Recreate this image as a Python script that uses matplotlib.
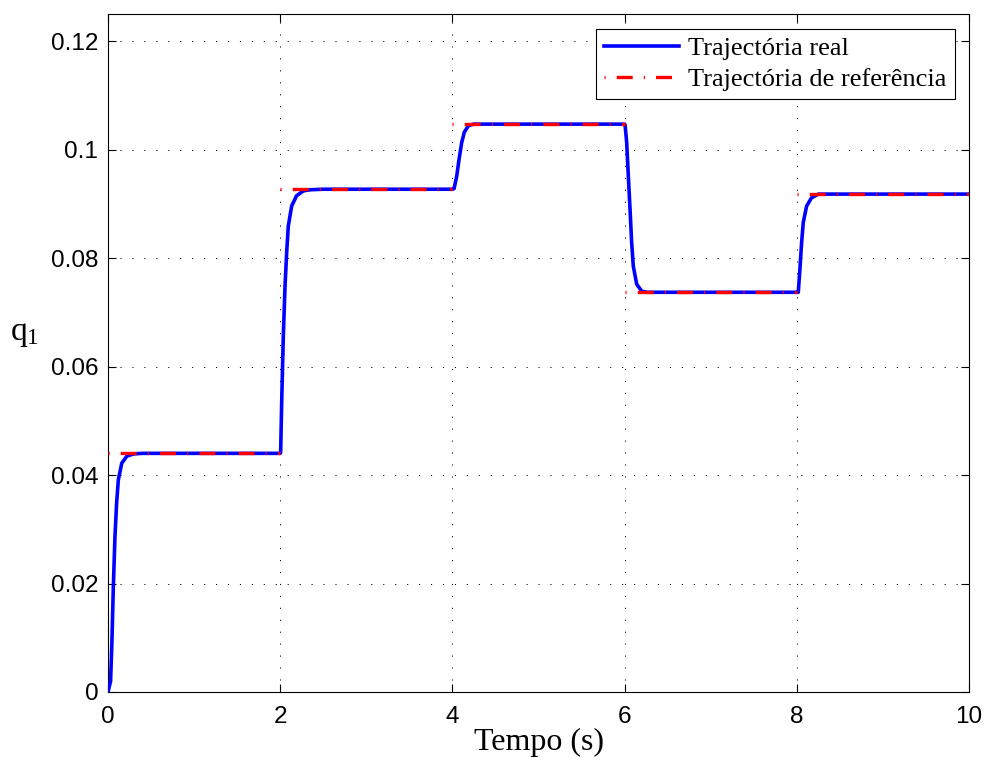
import matplotlib
matplotlib.use("Agg")
from matplotlib import pyplot as plt
import numpy as np

# reference trajectory (piecewise constant)
ref_start = [0, 2, 4, 6, 8]
ref_end = [2, 4, 6, 8, 10]
ref_level = [0.0440, 0.0927, 0.1047, 0.0737, 0.0918]

# real trajectory
t_real = [0, 0.03, 0.045, 0.062, 0.081, 0.10, 0.12, 0.16, 0.22, 0.30, 0.40,
          2.0, 2.005, 2.017, 2.036, 2.056, 2.075, 2.094, 2.133, 2.19, 2.27, 2.35, 2.5,
          4.0, 4.019, 4.05, 4.077, 4.108, 4.138, 4.185, 4.243, 4.35,
          6.0, 6.005, 6.024, 6.043, 6.063, 6.082, 6.101, 6.14, 6.198, 6.26, 6.4,
          8.0, 8.017, 8.036, 8.056, 8.075, 8.114, 8.17, 8.25, 8.4, 10.0]
q_real = [0, 0.002, 0.009, 0.0194, 0.0287, 0.0348, 0.0391, 0.0422, 0.0435, 0.0439, 0.0440,
          0.0440, 0.0441, 0.0533, 0.0656, 0.0748, 0.0810, 0.0859, 0.0896, 0.0915, 0.0924, 0.0926, 0.0927,
          0.0927, 0.0928, 0.0951, 0.0982, 0.1013, 0.1032, 0.1044, 0.1047, 0.1047,
          0.1047, 0.1046, 0.1013, 0.0952, 0.0890, 0.0828, 0.0785, 0.0752, 0.0739, 0.0737, 0.0737,
          0.0737, 0.0737, 0.0780, 0.0829, 0.0866, 0.0896, 0.0911, 0.0918, 0.0918, 0.0918]

plt.rcParams['lines.scale_dashes'] = False
plt.rcParams['mathtext.fontset'] = 'custom'
plt.rcParams['mathtext.rm'] = 'Liberation Serif'
plt.rcParams['mathtext.it'] = 'Liberation Serif'
serif = ['Liberation Serif', 'DejaVu Serif']
sans = ['Liberation Sans', 'DejaVu Sans']

fig = plt.figure(figsize=(9.89, 7.67), dpi=100)
ax = fig.add_axes([0.1092, 0.0978, 0.9798 - 0.1092, 0.9817 - 0.0978])

ax.plot(t_real, q_real, color="#0000ff", lw=2.6, label="Trajectória real", zorder=3)
for i in range(len(ref_start)):
    ax.plot([ref_start[i], ref_end[i]], [ref_level[i], ref_level[i]], color="#ff0000", lw=2.4,
            linestyle=(0, (0.8, 8.0, 11.5, 8.0)), dash_capstyle="butt",
            label="Trajectória de referência" if i == 0 else None, zorder=4)

ax.set_xlim(0, 10)
ax.set_ylim(0, 0.125)
ax.set_xticks([0, 2, 4, 6, 8, 10])
ax.set_yticks([0, 0.02, 0.04, 0.06, 0.08, 0.1, 0.12])
ax.set_yticklabels(["0", "0.02", "0.04", "0.06", "0.08", "0.1", "0.12"])
ax.grid(True, color="black", lw=0.7, linestyle=(0, (0.8, 7.8)))
ax.tick_params(direction="in", length=6, width=0.8, top=True, right=True,
               labelsize=17.5, pad=7)
ax.tick_params(axis="x", pad=10)
for lab in ax.get_xticklabels() + ax.get_yticklabels():
    lab.set_family(sans)
for s in ax.spines.values():
    s.set_linewidth(0.8)

ax.set_xlabel("Tempo (s)", family=serif, fontsize=23, labelpad=0)
ax.set_ylabel(r"$\mathrm{q}_\mathrm{1}$", fontsize=24, rotation=0, va="center", ha="center")
ax.yaxis.set_label_coords(-0.097, 0.53)

leg = ax.legend(loc="upper right", prop={'family': serif, 'size': 19}, fancybox=False,
                edgecolor="black", framealpha=1, handlelength=2.85, handletextpad=0.35,
                borderaxespad=0.55, labelspacing=0.28, borderpad=0.3)
leg.get_frame().set_linewidth(0.8)

fig.savefig("out.png", dpi=100)
